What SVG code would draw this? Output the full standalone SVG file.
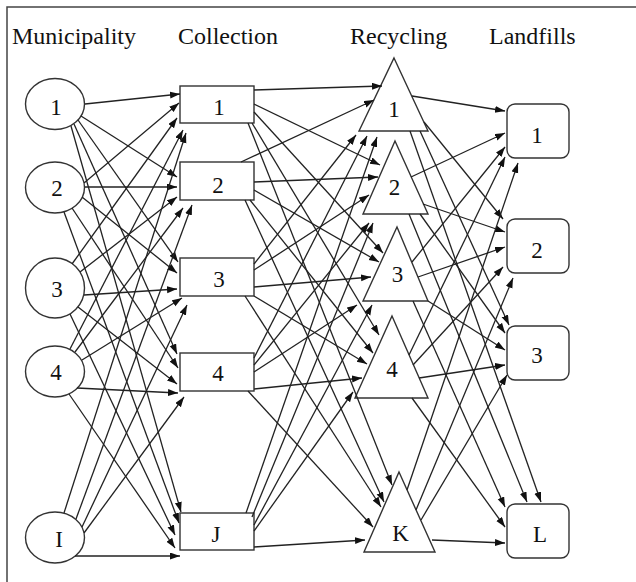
<svg xmlns="http://www.w3.org/2000/svg" width="636" height="582" viewBox="0 0 636 582">
<style>
.frame{fill:none;stroke:#444;stroke-width:1.5}
.hdr{font-family:"Liberation Serif","Times New Roman",serif;font-size:24px;fill:#111}
.lbl{font-family:"Liberation Serif","Times New Roman",serif;font-size:23px;fill:#111;text-anchor:middle}
.node{fill:#fff;stroke:#333;stroke-width:1.4}
.e{fill:none;stroke:#222;stroke-width:1.3;marker-end:url(#arr)}
</style>
<defs>
<marker id="arr" markerUnits="userSpaceOnUse" markerWidth="11" markerHeight="8" refX="10" refY="3.5" orient="auto">
<path d="M0,0 L10,3.5 L0,7 z" fill="#111"/>
</marker>
</defs>
<rect width="636" height="582" fill="#fff"/>
<path class="frame" d="M7,582 V7 H636"/>
<g id="headers">
<text class="hdr" x="12" y="44">Municipality</text>
<text class="hdr" x="178" y="44">Collection</text>
<text class="hdr" x="350" y="44">Recycling</text>
<text class="hdr" x="489" y="44">Landfills</text>
</g>
<g id="m1"><ellipse class="node" cx="55" cy="104" rx="29.5" ry="25.5"/><text class="lbl" x="56" y="115">1</text></g>
<g id="m2"><ellipse class="node" cx="55" cy="187.5" rx="29.5" ry="25.5"/><text class="lbl" x="57" y="196">2</text></g>
<g id="m3"><ellipse class="node" cx="55" cy="288" rx="29.5" ry="30"/><text class="lbl" x="57" y="297">3</text></g>
<g id="m4"><ellipse class="node" cx="55" cy="371.5" rx="29.5" ry="25.5"/><text class="lbl" x="56" y="380">4</text></g>
<g id="mI"><ellipse class="node" cx="55" cy="537.5" rx="29.5" ry="25.5"/><text class="lbl" x="59" y="547">I</text></g>
<g id="c1"><rect class="node" x="180" y="86" width="74" height="37"/><text class="lbl" x="219" y="115">1</text></g>
<g id="c2"><rect class="node" x="180" y="162" width="74" height="38"/><text class="lbl" x="218" y="193">2</text></g>
<g id="c3"><rect class="node" x="180" y="258" width="74" height="38"/><text class="lbl" x="219" y="287">3</text></g>
<g id="c4"><rect class="node" x="180" y="353" width="74" height="38"/><text class="lbl" x="218" y="381">4</text></g>
<g id="cJ"><rect class="node" x="180" y="513" width="74" height="37"/><text class="lbl" x="216" y="542">J</text></g>
<g id="r1"><polygon class="node" points="394,58 428,131 359,131"/><text class="lbl" x="394" y="117">1</text></g>
<g id="r2"><polygon class="node" points="395,141 428,214 363,214"/><text class="lbl" x="394.5" y="195">2</text></g>
<g id="r3"><polygon class="node" points="397,227 428,301 363,301"/><text class="lbl" x="397.5" y="282">3</text></g>
<g id="r4"><polygon class="node" points="392,316 428,398 355,398"/><text class="lbl" x="392" y="377">4</text></g>
<g id="rK"><polygon class="node" points="399,472 435,552 364,552"/><text class="lbl" x="400.5" y="541">K</text></g>
<g id="l1"><rect class="node" x="507" y="104" width="62" height="54" rx="8"/><text class="lbl" x="537" y="143">1</text></g>
<g id="l2"><rect class="node" x="507" y="219" width="62" height="54" rx="8"/><text class="lbl" x="537" y="258">2</text></g>
<g id="l3"><rect class="node" x="507" y="326" width="62" height="54" rx="8"/><text class="lbl" x="537" y="363">3</text></g>
<g id="lL"><rect class="node" x="507" y="504" width="62" height="54" rx="8"/><text class="lbl" x="540" y="542">L</text></g>
<g id="connectors">
<line class="e" x1="85" y1="104" x2="180" y2="94"/>
<line class="e" x1="81" y1="116" x2="177" y2="177"/>
<line class="e" x1="78" y1="120" x2="178" y2="262"/>
<line class="e" x1="74" y1="124" x2="177" y2="354"/>
<line class="e" x1="71" y1="126" x2="181" y2="512"/>
<line class="e" x1="84" y1="183" x2="179" y2="103"/>
<line class="e" x1="85" y1="187" x2="177" y2="187"/>
<line class="e" x1="82" y1="197" x2="177" y2="273"/>
<line class="e" x1="72" y1="208" x2="178" y2="368"/>
<line class="e" x1="64" y1="212" x2="179" y2="523"/>
<line class="e" x1="72" y1="264" x2="177" y2="118"/>
<line class="e" x1="80" y1="272" x2="177" y2="197"/>
<line class="e" x1="84" y1="295" x2="177" y2="289"/>
<line class="e" x1="78" y1="307" x2="177" y2="384"/>
<line class="e" x1="70" y1="314" x2="175" y2="535"/>
<line class="e" x1="70" y1="349" x2="183" y2="130"/>
<line class="e" x1="75" y1="352" x2="183" y2="208"/>
<line class="e" x1="82" y1="360" x2="182" y2="298"/>
<line class="e" x1="77" y1="388" x2="178" y2="393"/>
<line class="e" x1="69" y1="394" x2="175" y2="548"/>
<line class="e" x1="64" y1="513" x2="186" y2="133"/>
<line class="e" x1="76" y1="519" x2="192" y2="205"/>
<line class="e" x1="82" y1="527" x2="187" y2="305"/>
<line class="e" x1="84" y1="533" x2="184" y2="397"/>
<line class="e" x1="75" y1="556" x2="180" y2="556"/>
<line class="e" x1="254" y1="90" x2="382" y2="86"/>
<line class="e" x1="254" y1="104" x2="380" y2="165"/>
<line class="e" x1="254" y1="112" x2="383" y2="253"/>
<line class="e" x1="252" y1="123" x2="379" y2="335"/>
<line class="e" x1="248" y1="123" x2="392" y2="485"/>
<line class="e" x1="241" y1="162" x2="374" y2="100"/>
<line class="e" x1="254" y1="182" x2="378" y2="177"/>
<line class="e" x1="254" y1="190" x2="379" y2="262"/>
<line class="e" x1="250" y1="200" x2="373" y2="353"/>
<line class="e" x1="245" y1="200" x2="384" y2="502"/>
<line class="e" x1="254" y1="264" x2="356" y2="135"/>
<line class="e" x1="254" y1="270" x2="369" y2="195"/>
<line class="e" x1="254" y1="287" x2="371" y2="277"/>
<line class="e" x1="254" y1="296" x2="367" y2="364"/>
<line class="e" x1="245" y1="296" x2="381" y2="507"/>
<line class="e" x1="254" y1="358" x2="367" y2="136"/>
<line class="e" x1="254" y1="365" x2="369" y2="223"/>
<line class="e" x1="254" y1="372" x2="357" y2="305"/>
<line class="e" x1="254" y1="389" x2="362" y2="378"/>
<line class="e" x1="248" y1="391" x2="373" y2="527"/>
<line class="e" x1="246" y1="513" x2="377" y2="137"/>
<line class="e" x1="252" y1="517" x2="373" y2="223"/>
<line class="e" x1="254" y1="525" x2="372" y2="305"/>
<line class="e" x1="254" y1="531" x2="353" y2="392"/>
<line class="e" x1="254" y1="547" x2="365" y2="540"/>
<line class="e" x1="412" y1="96" x2="505" y2="111"/>
<line class="e" x1="424" y1="122" x2="503" y2="219"/>
<line class="e" x1="420" y1="131" x2="509" y2="325"/>
<line class="e" x1="410" y1="131" x2="541" y2="502"/>
<line class="e" x1="411" y1="177" x2="505" y2="133"/>
<line class="e" x1="423" y1="204" x2="505" y2="232"/>
<line class="e" x1="420" y1="214" x2="505" y2="333"/>
<line class="e" x1="409" y1="214" x2="527" y2="502"/>
<line class="e" x1="412" y1="262" x2="505" y2="147"/>
<line class="e" x1="418" y1="277" x2="505" y2="247"/>
<line class="e" x1="428" y1="301" x2="505" y2="350"/>
<line class="e" x1="413" y1="301" x2="505" y2="507"/>
<line class="e" x1="409" y1="355" x2="505" y2="157"/>
<line class="e" x1="413" y1="365" x2="503" y2="267"/>
<line class="e" x1="419" y1="378" x2="505" y2="365"/>
<line class="e" x1="412" y1="398" x2="505" y2="527"/>
<line class="e" x1="407" y1="490" x2="518" y2="163"/>
<line class="e" x1="416" y1="510" x2="513" y2="278"/>
<line class="e" x1="421" y1="520" x2="507" y2="375"/>
<line class="e" x1="432" y1="540" x2="505" y2="543"/>
</g>
</svg>
